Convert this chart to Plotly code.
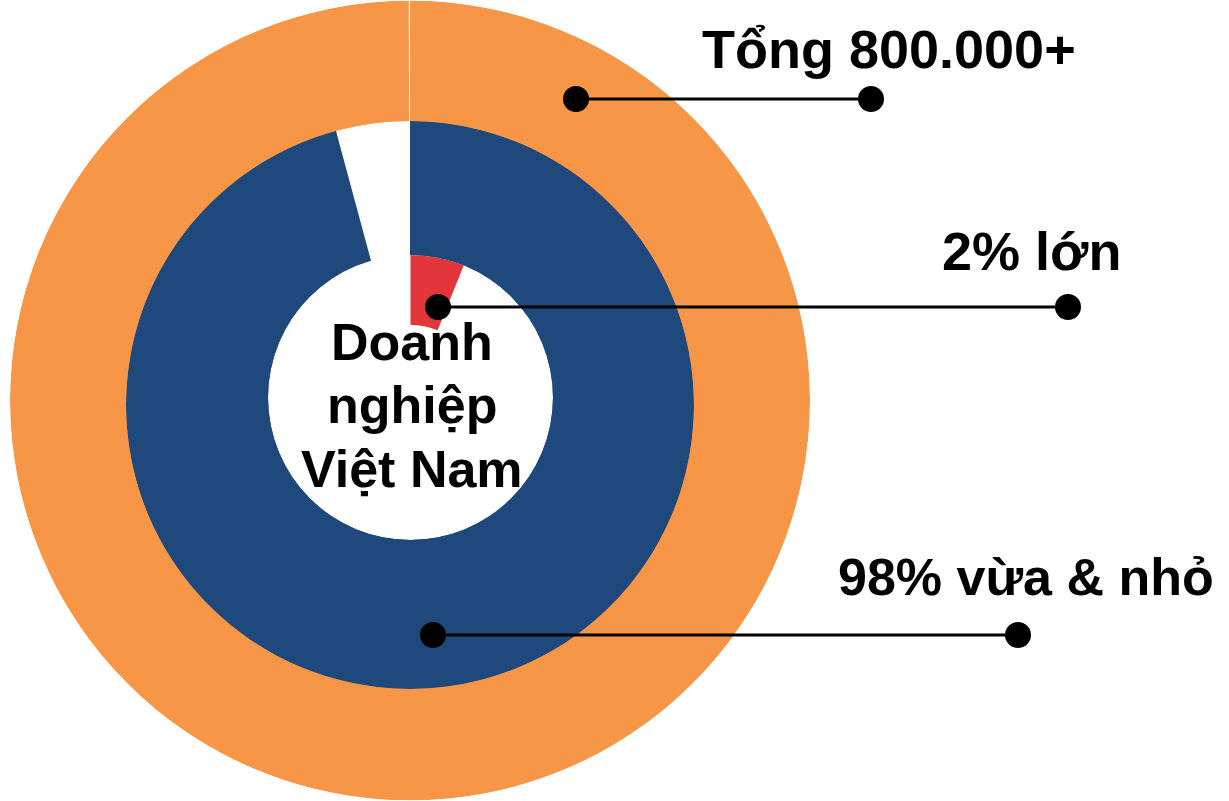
import plotly.graph_objects as go

# ---- data ----
ring_names = ["Tổng 800.000+", "98% vừa & nhỏ", "2% lớn"]
arc_share_pct = [99.95, 95.8, 6.1]          # share of the full circle each ring covers, as drawn
ring_colors = ["#F79646", "#1F497D", "#E2363B"]
center_text = ["Doanh", "nghiệp", "Việt Nam"]
callout_labels = ["Tổng 800.000+", "2% lớn", "98% vừa & nhỏ"]

# ---- layout constants (pixels) ----
W, H = 1229, 801
# each ring: (center x, center y, outer radius of its polar disc, inner radius of the ring)
ring_geom = [
    (410, 400.5, 400, 270),      # orange outer ring
    (410, 405, 284, 0),          # blue ring (inner part hidden by the centre disc)
    (410.5, 397.5, 142.5, 72.5), # red wedge, drawn on the white centre disc
]

def px(x):
    return x / W

def py(y):
    return 1 - y / H

fig = go.Figure()
subplots = ["polar", "polar2", "polar3"]
polar_layouts = {}
for i, (name, share, col, (cx, cy, R, base)) in enumerate(zip(ring_names, arc_share_pct, ring_colors, ring_geom)):
    sp = subplots[i]
    width = share * 3.6
    if i == 1:
        # white gap completing the blue ring
        fig.add_trace(go.Barpolar(r=[R], base=[0], theta=[width + (360 - width) / 2], width=[360 - width],
                                  marker=dict(color="white", line=dict(width=0)),
                                  hoverinfo="skip", showlegend=False, subplot=sp))
    if i == 2:
        # white centre disc
        fig.add_trace(go.Barpolar(r=[R], base=[0], theta=[180], width=[360],
                                  marker=dict(color="white", line=dict(width=0)),
                                  hoverinfo="skip", showlegend=False, subplot=sp))
    fig.add_trace(go.Barpolar(
        r=[R - base], base=[base], theta=[width / 2], width=[width],
        marker=dict(color=col, line=dict(width=0)),
        name=name, hoverinfo="skip", showlegend=False, subplot=sp,
    ))
    polar_layouts[sp] = dict(
        domain=dict(x=[px(cx - R), px(cx + R)], y=[py(cy + R), py(cy - R)]),
        bgcolor="rgba(0,0,0,0)" if i else "white",
        hole=0,
        radialaxis=dict(visible=False, range=[0, R]),
        angularaxis=dict(visible=False, rotation=90, direction="clockwise"),
    )

FAM = "Liberation Sans, Arial, sans-serif"
annotations = []
shapes = []
# callouts: (label center x, label middle y, font size, line y, left dot x, right dot x)
callout_pos = [
    (889, 49, 54, 99, 576, 871),
    (1031, 251, 54, 307, 438, 1068),
    (1026, 577, 52, 635, 433, 1018),
]
for lab, (lx, ly, fs, yy, x0, x1) in zip(callout_labels, callout_pos):
    annotations.append(dict(text="<b>%s</b>" % lab, x=px(lx), y=py(ly), xref="paper", yref="paper",
                            xanchor="center", yanchor="middle", showarrow=False,
                            font=dict(family=FAM, color="black", size=fs)))
    shapes.append(dict(type="line", xref="paper", yref="paper", x0=px(x0), x1=px(x1), y0=py(yy), y1=py(yy),
                       line=dict(color="black", width=3)))
    for xd in (x0, x1):
        rr = 13
        shapes.append(dict(type="circle", xref="paper", yref="paper", x0=px(xd - rr), x1=px(xd + rr),
                           y0=py(yy + rr), y1=py(yy - rr), fillcolor="black", line=dict(width=0)))

center_y = [342, 405, 469]
for line, cy in zip(center_text, center_y):
    annotations.append(dict(text="<b>%s</b>" % line, x=px(412), y=py(cy),
                            xref="paper", yref="paper", xanchor="center", yanchor="middle",
                            showarrow=False, font=dict(family=FAM, color="black", size=52)))

fig.update_layout(
    width=W, height=H,
    margin=dict(l=0, r=0, t=0, b=0),
    paper_bgcolor="white",
    annotations=annotations,
    shapes=shapes,
    showlegend=False,
    **polar_layouts,
)

fig.write_html("out.html", config={"displayModeBar": False},
               post_script="document.body.style.margin='0';document.body.style.overflow='hidden';")
